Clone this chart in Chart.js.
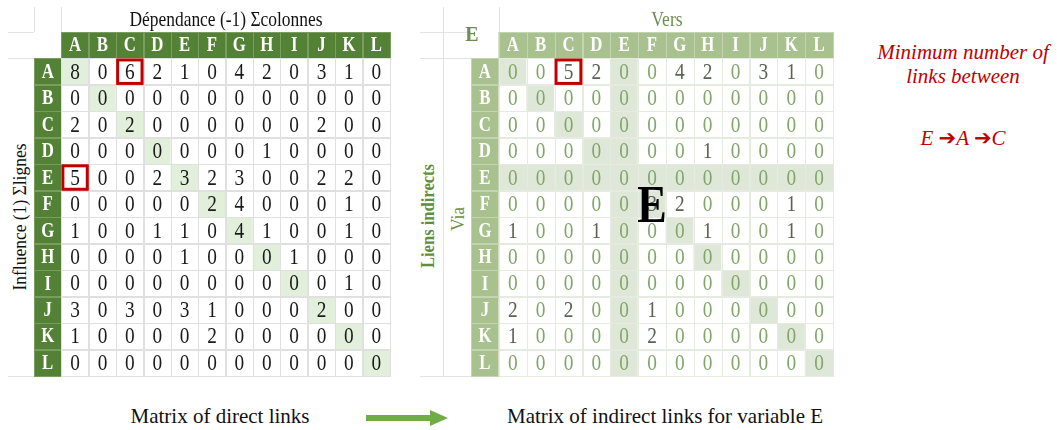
<!DOCTYPE html>
<html>
<head>
<meta charset="utf-8">
<script src="https://cdn.jsdelivr.net/npm/chart.js@4.4.1/dist/chart.umd.min.js"></script>
<style>
  body { margin: 0; background: #fff; }
  #page { position: relative; width: 1057px; height: 430px; overflow: hidden; font-family: "Liberation Serif", "Times New Roman", serif; }
  .txt { position: absolute; white-space: nowrap; transform: translate(-50%, -50%); }
  .rot { transform: translate(-50%, -50%) rotate(-90deg) scaleX(0.92); }
  .hl { position: absolute; height: 1px; background: #e3e3e3; }
  .vl { position: absolute; width: 1px; background: #e3e3e3; }
  canvas { position: absolute; }
  .red { color: #c00000; font-style: italic; font-size: 21px; }
  .arr { font-family: "DejaVu Sans", sans-serif; font-style: normal; font-size: 21px; }
</style>
</head>
<body>
<div id="page">
  <!-- spreadsheet lines around the left matrix -->
  <div class="vl" style="left:34px; top:7px; height:370px;"></div>
  <div class="vl" style="left:61px; top:7px; height:25px;"></div>
  <div class="hl" style="left:8px; top:32px; width:53px;"></div>
  <div class="hl" style="left:8px; top:58px; width:26px;"></div>
  <div class="hl" style="left:8px; top:376px; width:26px;"></div>
  <!-- spreadsheet lines around the right matrix -->
  <div class="vl" style="left:443px; top:7px; height:370px;"></div>
  <div class="vl" style="left:499px; top:7px; height:25px;"></div>
  <div class="hl" style="left:420px; top:32px; width:79px;"></div>
  <div class="hl" style="left:420px; top:58px; width:51px;"></div>
  <div class="hl" style="left:420px; top:376px; width:51px;"></div>

  <canvas id="directChart" width="358" height="346" style="left:33px; top:31px;"></canvas>
  <canvas id="indirectChart" width="364" height="346" style="left:470px; top:31px;"></canvas>

  <div class="txt" style="left:226px; top:19px; font-size:21px; color:#111; transform:translate(-50%, -50%) scaleX(0.83);">Dépendance (-1) Σcolonnes</div>
  <div class="txt rot" style="left:20px; top:217px; font-size:19px; color:#111;">Influence (1) Σlignes</div>

  <div class="txt" style="left:667px; top:19px; font-size:20px; color:#6b8f4f; transform:translate(-50%, -50%) scaleX(0.88);">Vers</div>
  <div class="txt" style="left:472px; top:34px; font-size:20px; font-weight:bold; color:#6b8f4f;">E</div>
  <div class="txt rot" style="left:428px; top:216px; font-size:18px; font-weight:bold; color:#5f8f3c;">Liens indirects</div>
  <div class="txt rot" style="left:458px; top:219px; font-size:19px; color:#6b8f4f;">Via</div>
  <div class="txt" style="left:652px; top:204px; font-size:52px; font-weight:bold; color:#000; transform:translate(-50%, -50%) scaleX(0.85);">E</div>

  <div class="txt red" style="left:963px; top:52px;">Minimum number of</div>
  <div class="txt red" style="left:963px; top:76px;">links between</div>
  <div class="txt red" style="left:963px; top:138px;">E <span class="arr">➔</span>A <span class="arr">➔</span>C</div>

  <div class="txt" style="left:220px; top:416px; font-size:21px; color:#111;">Matrix of direct links</div>
  <svg style="position:absolute; left:366px; top:409px;" width="84" height="18">
    <rect x="0" y="6" width="66" height="6" fill="#70ad47"></rect>
    <polygon points="64,1 82,9 64,17" fill="#70ad47"></polygon>
  </svg>
  <div class="txt" style="left:665px; top:416px; font-size:21px; color:#111;">Matrix of indirect links for variable E</div>
</div>

<script>
// variables (rows = influence / via, columns = dependance / vers)
const letters = ['A', 'B', 'C', 'D', 'E', 'F', 'G', 'H', 'I', 'J', 'K', 'L'];

// matrix of direct links
const directLinks = [
  [8, 0, 6, 2, 1, 0, 4, 2, 0, 3, 1, 0],
  [0, 0, 0, 0, 0, 0, 0, 0, 0, 0, 0, 0],
  [2, 0, 2, 0, 0, 0, 0, 0, 0, 2, 0, 0],
  [0, 0, 0, 0, 0, 0, 0, 1, 0, 0, 0, 0],
  [5, 0, 0, 2, 3, 2, 3, 0, 0, 2, 2, 0],
  [0, 0, 0, 0, 0, 2, 4, 0, 0, 0, 1, 0],
  [1, 0, 0, 1, 1, 0, 4, 1, 0, 0, 1, 0],
  [0, 0, 0, 0, 1, 0, 0, 0, 1, 0, 0, 0],
  [0, 0, 0, 0, 0, 0, 0, 0, 0, 0, 1, 0],
  [3, 0, 3, 0, 3, 1, 0, 0, 0, 2, 0, 0],
  [1, 0, 0, 0, 0, 2, 0, 0, 0, 0, 0, 0],
  [0, 0, 0, 0, 0, 0, 0, 0, 0, 0, 0, 0]
];

// matrix of indirect links via E
const indirectLinksE = [
  [0, 0, 5, 2, 0, 0, 4, 2, 0, 3, 1, 0],
  [0, 0, 0, 0, 0, 0, 0, 0, 0, 0, 0, 0],
  [0, 0, 0, 0, 0, 0, 0, 0, 0, 0, 0, 0],
  [0, 0, 0, 0, 0, 0, 0, 1, 0, 0, 0, 0],
  [0, 0, 0, 0, 0, 0, 0, 0, 0, 0, 0, 0],
  [0, 0, 0, 0, 0, 3, 2, 0, 0, 0, 1, 0],
  [1, 0, 0, 1, 0, 0, 0, 1, 0, 0, 1, 0],
  [0, 0, 0, 0, 0, 0, 0, 0, 0, 0, 0, 0],
  [0, 0, 0, 0, 0, 0, 0, 0, 0, 0, 0, 0],
  [2, 0, 2, 0, 0, 1, 0, 0, 0, 0, 0, 0],
  [1, 0, 0, 0, 0, 2, 0, 0, 0, 0, 0, 0],
  [0, 0, 0, 0, 0, 0, 0, 0, 0, 0, 0, 0]
];

// cells framed in red [row, column]
const directMarked = [['A', 'C'], ['E', 'A']];
const indirectMarked = [['A', 'C']];

const directStyle = {
  fill: function(r, c) {
    if (r === 0 && c === 0) return '#ffffff';
    if (r === 0 || c === 0) return '#538135';
    if (r === c) return '#e2efda';
    return '#ffffff';
  },
  headBorder: '#7a9c5e',
  bodyBorder: '#e0e0e0',
  headText: '#ffffff',
  text: function(v) { return '#1a1a1a'; }
};

const indirectStyle = {
  fill: function(r, c) {
    if (r === 0 && c === 0) return '#ffffff';
    if (r === 0 || c === 0) return '#a9c18f';
    if (r === c || r === 5 || c === 5) return '#dfe8d8';
    return '#ffffff';
  },
  headBorder: '#c3d4b1',
  bodyBorder: '#e6ebe2',
  headText: '#ffffff',
  text: function(v) { return v === 0 ? '#82a66a' : '#5c6356'; }
};

function cellBox(chart, r, c) {
  const el = chart.getDatasetMeta(r).data[c];
  const top = Math.min(el.y, el.base);
  const bottom = Math.max(el.y, el.base);
  return { x: el.x - el.width / 2, y: top, w: el.width, h: bottom - top, cx: el.x, cy: (top + bottom) / 2 };
}

// condensed serif text, like the scanned table
function drawText(ctx, s, x, y, font) {
  ctx.save();
  ctx.translate(x, y);
  ctx.scale(0.84, 1);
  ctx.font = font;
  ctx.fillText(s, 0, 0);
  ctx.restore();
}

// grid, numbers and red frames drawn on top of the cells
const matrixPlugin = {
  id: 'matrixText',
  afterDatasetsDraw: function(chart, args, opts) {
    const ctx = chart.ctx;
    const n = letters.length + 1;
    ctx.save();
    ctx.textAlign = 'center';
    ctx.textBaseline = 'middle';
    for (let r = 0; r < n; r++) {
      for (let c = 0; c < n; c++) {
        if (r === 0 && c === 0) continue;
        const b = cellBox(chart, r, c);
        const head = r === 0 || c === 0;
        ctx.strokeStyle = head ? opts.style.headBorder : opts.style.bodyBorder;
        ctx.lineWidth = 1;
        ctx.strokeRect(Math.round(b.x) + 0.5, Math.round(b.y) + 0.5, Math.round(b.w), Math.round(b.h));
      }
    }
    for (let r = 0; r < n; r++) {
      for (let c = 0; c < n; c++) {
        if (r === 0 && c === 0) continue;
        const b = cellBox(chart, r, c);
        if (r === 0 || c === 0) {
          ctx.fillStyle = opts.style.headText;
          drawText(ctx, r === 0 ? letters[c - 1] : letters[r - 1], b.cx, b.cy + 1, 'bold 20px "Liberation Serif"');
        } else {
          const v = opts.values[r - 1][c - 1];
          ctx.fillStyle = opts.style.text(v);
          drawText(ctx, String(v), b.cx, b.cy + 1, '23px "Liberation Serif"');
        }
      }
    }
    ctx.strokeStyle = '#c00000';
    ctx.lineWidth = 3;
    opts.marked.forEach(function(m) {
      const b = cellBox(chart, letters.indexOf(m[0]) + 1, letters.indexOf(m[1]) + 1);
      ctx.strokeRect(b.x + 1.5, b.y + 1.5, b.w - 3, b.h - 3);
    });
    ctx.restore();
  }
};

function makeMatrix(id, values, style, marked) {
  const n = letters.length + 1;
  const datasets = [];
  for (let r = 0; r < n; r++) {
    datasets.push({
      data: new Array(n).fill(1),
      backgroundColor: function(ctx) { return style.fill(r, ctx.dataIndex); }
    });
  }
  return new Chart(document.getElementById(id), {
    type: 'bar',
    data: { labels: [''].concat(letters), datasets: datasets },
    options: {
      responsive: false,
      animation: false,
      devicePixelRatio: 1,
      layout: { padding: 1 },
      datasets: { bar: { barPercentage: 1, categoryPercentage: 1, borderWidth: 0 } },
      plugins: {
        legend: { display: false },
        tooltip: { enabled: false },
        matrixText: { values: values, style: style, marked: marked }
      },
      scales: {
        x: { display: false, stacked: true },
        y: { display: false, stacked: true, min: 0, max: n, reverse: true }
      }
    },
    plugins: [matrixPlugin]
  });
}

makeMatrix('directChart', directLinks, directStyle, directMarked);
makeMatrix('indirectChart', indirectLinksE, indirectStyle, indirectMarked);
</script>
</body>
</html>
